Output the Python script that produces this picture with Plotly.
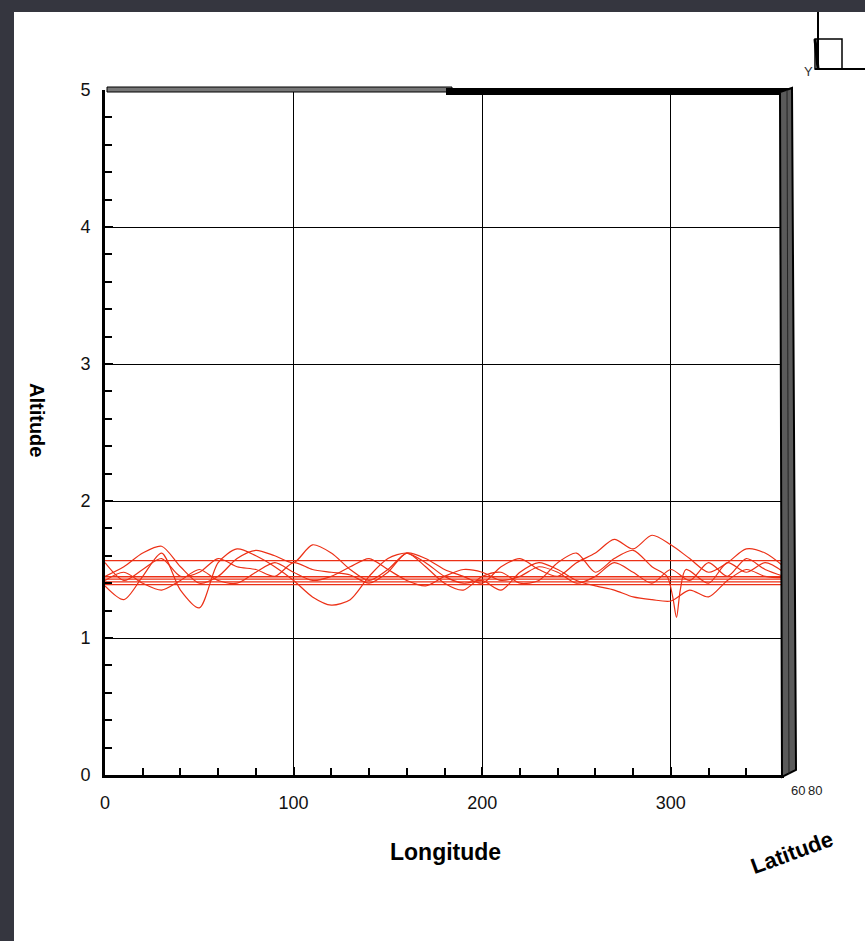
import plotly.graph_objects as go

# ---------------- data ----------------
lon = [0, 10, 20, 30, 40, 50, 60, 70, 80, 90, 100, 110, 120, 130, 140, 150, 160, 170, 180,
       190, 200, 210, 220, 230, 240, 250, 260, 270, 280, 290, 300, 310, 320, 330, 340, 350, 360]

alt_w1 = [1.38, 1.28, 1.45, 1.62, 1.35, 1.22, 1.55, 1.65, 1.60, 1.52, 1.42, 1.30, 1.24, 1.28, 1.45,
          1.58, 1.62, 1.55, 1.45, 1.40, 1.42, 1.35, 1.48, 1.55, 1.50, 1.42, 1.38, 1.35, 1.30, 1.28,
          1.27, 1.35, 1.30, 1.42, 1.50, 1.45, 1.44]
alt_w2 = [1.45, 1.52, 1.62, 1.67, 1.52, 1.40, 1.45, 1.58, 1.64, 1.60, 1.55, 1.68, 1.62, 1.50, 1.42,
          1.50, 1.62, 1.58, 1.50, 1.45, 1.40, 1.52, 1.58, 1.50, 1.45, 1.55, 1.62, 1.72, 1.65, 1.75,
          1.68, 1.58, 1.48, 1.55, 1.65, 1.62, 1.52]
alt_w4 = [1.42, 1.48, 1.40, 1.35, 1.42, 1.50, 1.42, 1.40, 1.48, 1.55, 1.48, 1.42, 1.45, 1.52, 1.58,
          1.50, 1.42, 1.38, 1.45, 1.50, 1.48, 1.42, 1.45, 1.52, 1.48, 1.40, 1.45, 1.55, 1.48, 1.40,
          1.50, 1.42, 1.55, 1.45, 1.58, 1.50, 1.45]

lon_w3 = [0, 10, 20, 30, 40, 50, 60, 70, 80, 90, 100, 110, 120, 130, 140, 150, 160, 170, 180,
          190, 200, 210, 220, 230, 240, 250, 260, 270, 280, 290, 298, 301, 303, 305, 308, 320,
          330, 340, 350, 360]
alt_w3 = [1.55, 1.42, 1.50, 1.58, 1.45, 1.48, 1.58, 1.52, 1.50, 1.45, 1.55, 1.50, 1.48, 1.46, 1.40,
          1.48, 1.62, 1.52, 1.40, 1.35, 1.45, 1.48, 1.40, 1.42, 1.55, 1.62, 1.48, 1.58, 1.64, 1.52,
          1.45, 1.30, 1.15, 1.35, 1.50, 1.40, 1.55, 1.48, 1.55, 1.48]

flat_levels = [1.565, 1.447, 1.43, 1.41, 1.39]
flat_lon = [0, 360]

x_ticks = [0, 100, 200, 300]
y_ticks = [0, 1, 2, 3, 4, 5]
lat_tick_labels = ["60", "80"]

# ---------------- layout geometry (pixels) ----------------
W, H = 865, 941
L, R, T, B = 105, 784, 90, 775


def px(x):
    return (x - L) / (R - L)


def py(y):
    return (B - y) / (B - T)


RED = "rgb(236,48,22)"
fig = go.Figure()

for lvl in flat_levels:
    fig.add_trace(go.Scatter(x=flat_lon, y=[lvl, lvl], mode="lines",
                             line=dict(color=RED, width=1.3), hoverinfo="skip"))
for xs, ys in [(lon, alt_w1), (lon, alt_w2), (lon_w3, alt_w3), (lon, alt_w4)]:
    fig.add_trace(go.Scatter(x=xs, y=ys, mode="lines",
                             line=dict(color=RED, width=1.2, shape="spline", smoothing=0.8),
                             hoverinfo="skip"))

SANS = "Liberation Sans, Arial, sans-serif"
TICKFONT = dict(family=SANS, size=18, color="#111")

shapes = [
    # white page over dark background
    dict(type="rect", xref="paper", yref="paper", x0=px(14), x1=px(W + 5), y0=py(12), y1=py(H + 5),
         fillcolor="white", line=dict(width=0), layer="below"),
    # top border: grey double part
    dict(type="rect", xref="paper", yref="paper", x0=px(107), x1=px(452), y0=py(87), y1=py(92),
         fillcolor="#777", line=dict(color="black", width=1), layer="above"),
    # top border: thick black part
    dict(type="rect", xref="paper", yref="paper", x0=px(446), x1=px(792), y0=py(88), y1=py(95),
         fillcolor="black", line=dict(width=0), layer="above"),
    # right 3D side bar
    dict(type="path", xref="paper", yref="paper",
         path=f"M {px(780)},{py(92)} L {px(792)},{py(88)} L {px(796)},{py(770)} L {px(782)},{py(777)} Z",
         fillcolor="#5a5a5a", line=dict(color="black", width=2), layer="above"),
    dict(type="line", xref="paper", yref="paper", x0=px(787), x1=px(789), y0=py(90), y1=py(774),
         line=dict(color="#222", width=1), layer="above"),
    # axis triad top right
    dict(type="line", xref="paper", yref="paper", x0=px(818), x1=px(818), y0=py(12), y1=py(69),
         line=dict(color="black", width=2)),
    dict(type="rect", xref="paper", yref="paper", x0=px(815), x1=px(842), y0=py(39), y1=py(69),
         line=dict(color="black", width=1.5)),
    dict(type="line", xref="paper", yref="paper", x0=px(815), x1=px(865), y0=py(69), y1=py(69),
         line=dict(color="black", width=2)),
    dict(type="line", xref="paper", yref="paper", x0=px(815), x1=px(818), y0=py(39), y1=py(69),
         line=dict(color="black", width=3)),
]


def ann(text, x, y, size, angle=0, color="black"):
    return dict(text=text, x=px(x), y=py(y), xref="paper", yref="paper", showarrow=False,
                xanchor="center", yanchor="middle", textangle=angle,
                font=dict(family=SANS, size=size, color=color))


annotations = [
    ann("<b>Longitude</b>", 445, 852, 23),
    ann("<b>Altitude</b>", 37, 420, 20, angle=90),
    ann("<b>Latitude</b>", 792, 852, 22, angle=-20),
    ann(lat_tick_labels[0], 798, 790, 13, color="#222"),
    ann(lat_tick_labels[1], 815, 790, 13, color="#222"),
    ann("Y", 808, 72, 13, color="#333"),
]

fig.update_layout(
    width=W, height=H,
    margin=dict(l=L, r=W - R, t=T, b=H - B, pad=0),
    paper_bgcolor="#35363f",
    plot_bgcolor="white",
    showlegend=False,
    shapes=shapes,
    annotations=annotations,
    xaxis=dict(range=[0, 360], tickvals=x_ticks, ticktext=[str(v) for v in x_ticks],
               showgrid=True, gridcolor="black", gridwidth=1, zeroline=False,
               showline=True, linecolor="black", linewidth=3,
               ticks="inside", ticklen=8, tickwidth=2, tickcolor="black",
               minor=dict(dtick=20, ticks="inside", ticklen=7, tickwidth=1.5, tickcolor="black", showgrid=False),
               tickfont=TICKFONT, ticklabelstandoff=9, fixedrange=True),
    yaxis=dict(range=[0, 5], tickvals=y_ticks, ticktext=[str(v) for v in y_ticks],
               showgrid=True, gridcolor="black", gridwidth=1, zeroline=False,
               showline=True, linecolor="black", linewidth=3,
               ticks="inside", ticklen=8, tickwidth=2, tickcolor="black",
               minor=dict(dtick=0.2, ticks="inside", ticklen=7, tickwidth=1.5, tickcolor="black", showgrid=False),
               tickfont=TICKFONT, ticklabelstandoff=8, fixedrange=True),
)

fig.write_html("out.html", config=dict(displayModeBar=False),
               post_script="document.body.style.margin='0';document.body.style.overflow='hidden';")
